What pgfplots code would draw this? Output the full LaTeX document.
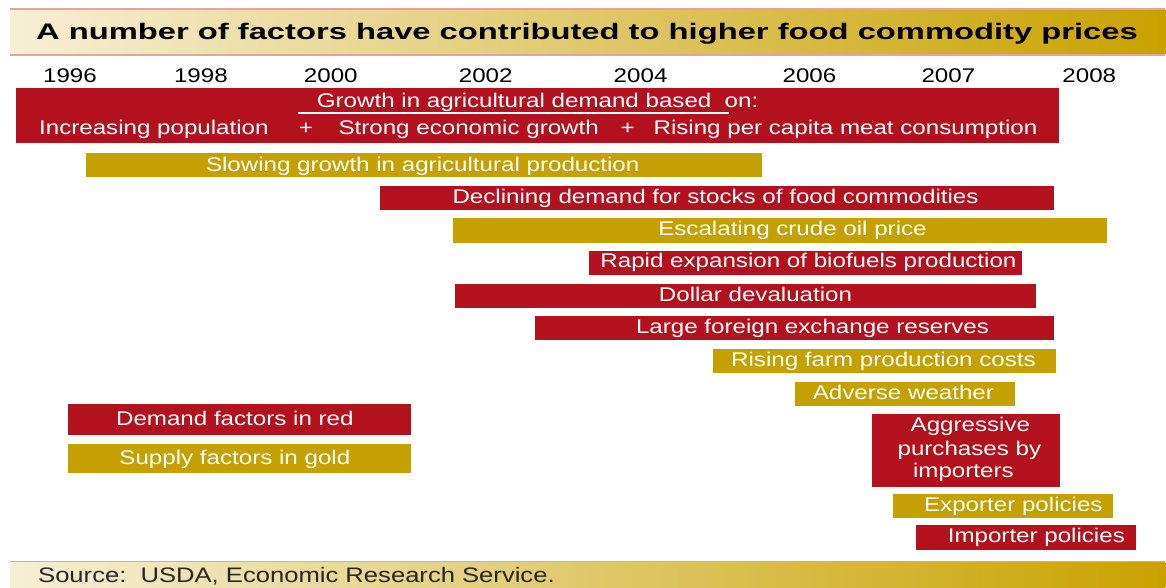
\documentclass[border=0pt]{standalone}
\usepackage{pgfplots}
\pgfplotsset{compat=1.18}
\usepackage{fontspec}
\setmainfont{Liberation Sans}[FakeStretch=1.22]
\newfontfamily\titlefont{Liberation Sans}[FakeStretch=1.455]
\definecolor{dred}{HTML}{B3111D}
\definecolor{gold}{HTML}{C4A100}
\definecolor{cream}{HTML}{F7EFD6}
\definecolor{bandgold}{HTML}{C9A200}
\definecolor{pinkline}{HTML}{E6A39B}
\tikzset{
  bartext/.style={font=\fontsize{19.8}{22}\selectfont, text=white, anchor=base, inner sep=0pt},
  yeartext/.style={font=\fontsize{19.8}{22}\selectfont, text=black, anchor=base, inner sep=0pt},
}
\begin{document}
\begin{tikzpicture}
\begin{axis}[
  width=1166pt, height=588pt, scale only axis,
  xmin=0, xmax=1166, ymin=0, ymax=588, y dir=reverse,
  hide axis, clip=false,
]
% bounding area
\path (axis cs:0,0) rectangle (axis cs:1166,588);
% title band
\path[left color=cream, right color=bandgold] (axis cs:10,9.5) rectangle (axis cs:1166,54.5);
\draw[pinkline, line width=1.5pt] (axis cs:10,9) -- (axis cs:1166,9);
\draw[pinkline, line width=1.5pt] (axis cs:10,55) -- (axis cs:1166,55);
\node[anchor=base west, inner sep=0pt, font=\titlefont\bfseries\fontsize{22.5}{24}\selectfont] at (axis cs:36,39.5) {A number of factors have contributed to higher food commodity prices};
% source band
\path[left color=cream, right color=bandgold] (axis cs:10,562.5) rectangle (axis cs:1166,588);
\draw[pinkline, line width=1.5pt] (axis cs:10,562) -- (axis cs:1166,562);
\node[anchor=base west, inner sep=0pt, font=\fontsize{21}{23}\selectfont, text=black!85] at (axis cs:38,583) {Source:\ \ USDA, Economic Research Service.};
% years
\node[yeartext] at (axis cs:70,83) {1996};
\node[yeartext] at (axis cs:201,83) {1998};
\node[yeartext] at (axis cs:331,83) {2000};
\node[yeartext] at (axis cs:486,83) {2002};
\node[yeartext] at (axis cs:641,83) {2004};
\node[yeartext] at (axis cs:810,83) {2006};
\node[yeartext] at (axis cs:949,83) {2007};
\node[yeartext] at (axis cs:1090,83) {2008};
% bars: demand factors (red)
\addplot[fill=dred, draw=none] coordinates {(16,88) (1060,88) (1060,143) (16,143)} --cycle;
\addplot[fill=dred, draw=none] coordinates {(380,186) (1055,186) (1055,210) (380,210)} --cycle;
\addplot[fill=dred, draw=none] coordinates {(589,251) (1023,251) (1023,275) (589,275)} --cycle;
\addplot[fill=dred, draw=none] coordinates {(455,284) (1037,284) (1037,308) (455,308)} --cycle;
\addplot[fill=dred, draw=none] coordinates {(535,316) (1055,316) (1055,340) (535,340)} --cycle;
\addplot[fill=dred, draw=none] coordinates {(873,414) (1061,414) (1061,487) (873,487)} --cycle;
\addplot[fill=dred, draw=none] coordinates {(917,525) (1137,525) (1137,550) (917,550)} --cycle;
\addplot[fill=dred, draw=none] coordinates {(68,404) (411,404) (411,435) (68,435)} --cycle;
% bars: supply factors (gold)
\addplot[fill=gold, draw=none] coordinates {(86,153) (762,153) (762,177) (86,177)} --cycle;
\addplot[fill=gold, draw=none] coordinates {(453,218) (1108,218) (1108,243) (453,243)} --cycle;
\addplot[fill=gold, draw=none] coordinates {(713,349) (1057,349) (1057,373) (713,373)} --cycle;
\addplot[fill=gold, draw=none] coordinates {(796,382) (1016,382) (1016,406) (796,406)} --cycle;
\addplot[fill=gold, draw=none] coordinates {(894,494) (1114,494) (1114,518) (894,518)} --cycle;
\addplot[fill=gold, draw=none] coordinates {(68,444) (411,444) (411,473) (68,473)} --cycle;
% texts
\node[bartext] at (axis cs:538,108) {Growth in agricultural demand based\ \ on:};
\draw[white, line width=1.2pt] (axis cs:298,113) -- (axis cs:729,113);
\node[bartext] at (axis cs:154,135) {Increasing population};
\node[bartext] at (axis cs:306,135) {+};
\node[bartext] at (axis cs:469,135) {Strong economic growth};
\node[bartext] at (axis cs:628,135) {+};
\node[bartext] at (axis cs:846,135) {Rising per capita meat consumption};
\node[bartext] at (axis cs:423,171.5) {Slowing growth in agricultural production};
\node[bartext] at (axis cs:716,203.5) {Declining demand for stocks of food commodities};
\node[bartext] at (axis cs:793,236) {Escalating crude oil price};
\node[bartext] at (axis cs:809,268) {Rapid expansion of biofuels production};
\node[bartext] at (axis cs:756,301.5) {Dollar devaluation};
\node[bartext] at (axis cs:813,333.5) {Large foreign exchange reserves};
\node[bartext] at (axis cs:884,366.5) {Rising farm production costs};
\node[bartext] at (axis cs:904,399.5) {Adverse weather};
\node[bartext] at (axis cs:971,432) {Aggressive};
\node[bartext] at (axis cs:970,455.5) {purchases by};
\node[bartext] at (axis cs:964,478) {importers};
\node[bartext] at (axis cs:1014,512) {Exporter policies};
\node[bartext] at (axis cs:1037,543) {Importer policies};
\node[bartext] at (axis cs:235,426) {Demand factors in red};
\node[bartext] at (axis cs:235,465) {Supply factors in gold};
\end{axis}
\end{tikzpicture}
\end{document}
